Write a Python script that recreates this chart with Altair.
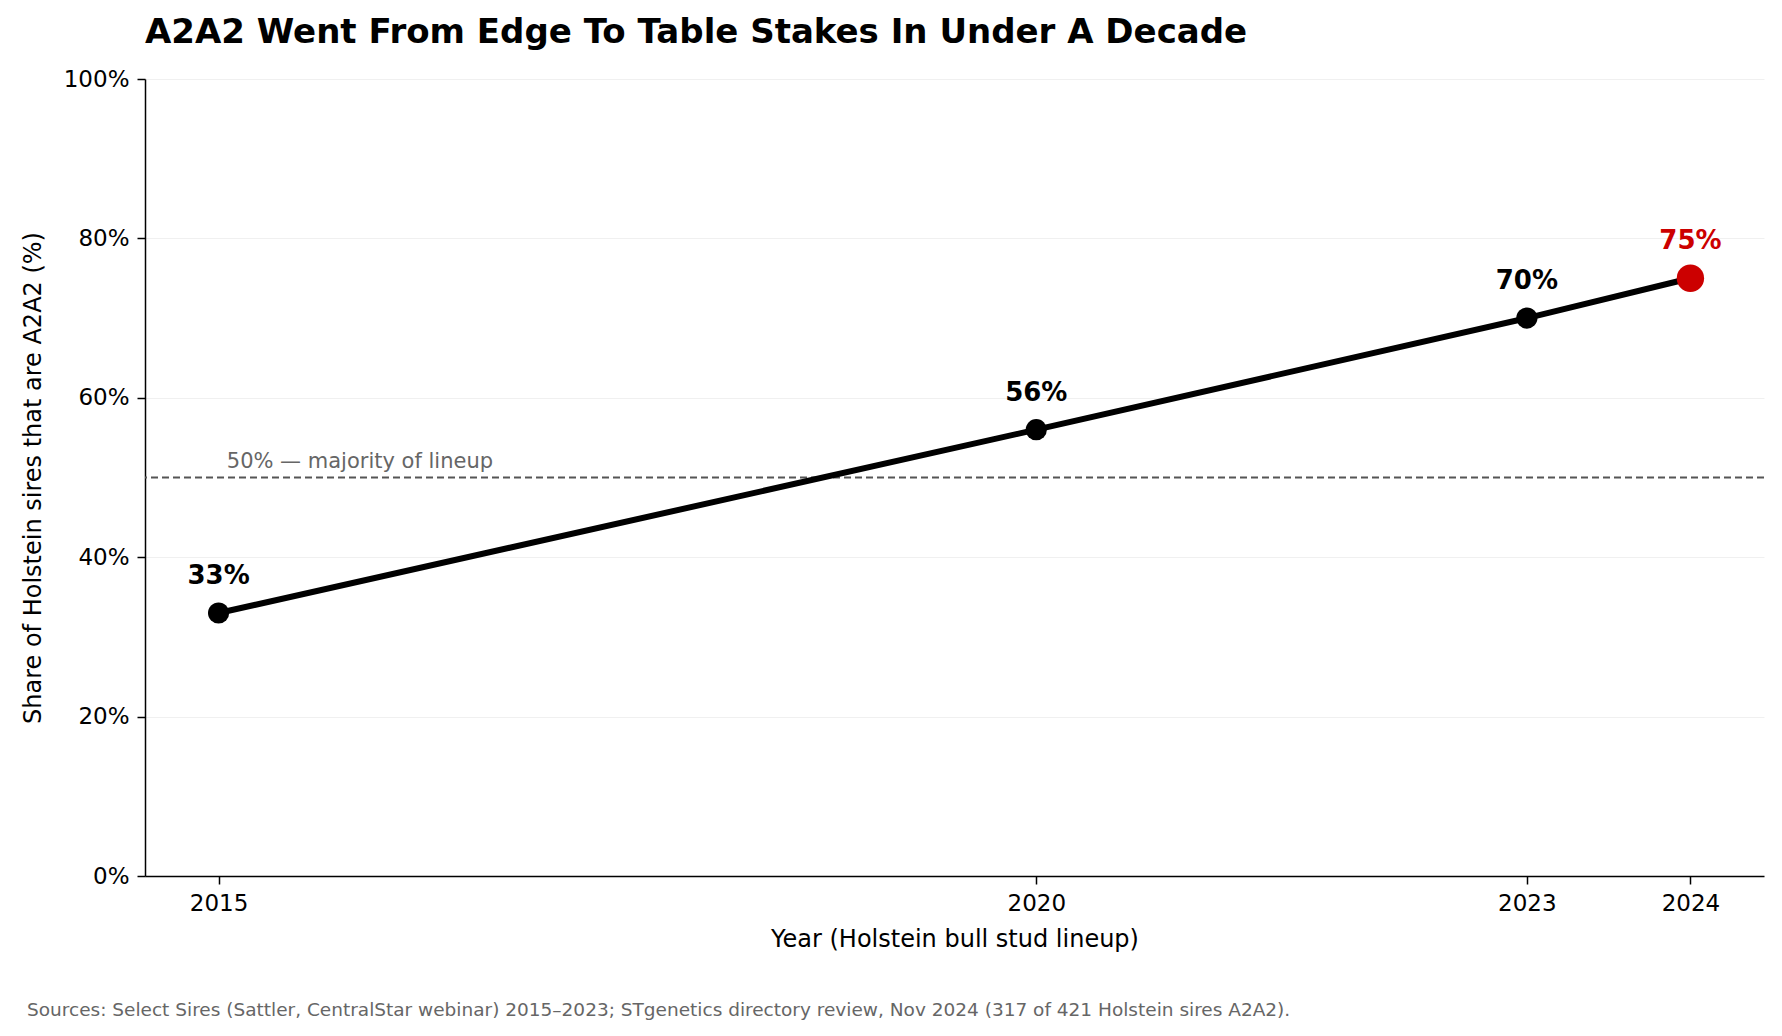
import altair as alt
import pandas as pd

years = [2015, 2020, 2023, 2024]
shares = [33, 56, 70, 75]
labels = ["33%", "56%", "70%", "75%"]
highlight = [False, False, False, True]

df = pd.DataFrame({"year": years, "share": shares, "label": labels, "hl": highlight})

xs = alt.Scale(domain=[2014.55, 2024.45], nice=False, zero=False)
ys = alt.Scale(domain=[0, 100], nice=False)

base = alt.Chart(df)

x_enc = alt.X("year:Q", scale=xs, title="Year (Holstein bull stud lineup)",
              axis=alt.Axis(values=years, format="d", grid=False, labelFontSize=23,
                            titleFontSize=24, titleFontWeight="normal", labelPadding=8,
                            titlePadding=12, domainColor="black", tickColor="black",
                            tickSize=8, domainWidth=1.5, tickWidth=1.5,
                            labelColor="black", titleColor="black",
                            labelFont="DejaVu Sans", titleFont="DejaVu Sans"))
y_enc = alt.Y("share:Q", scale=ys, title="Share of Holstein sires that are A2A2 (%)",
              axis=alt.Axis(values=[0, 20, 40, 60, 80, 100], labelExpr="datum.value + '%'",
                            grid=True, gridColor="#f0f0f0", labelFontSize=23, titleFontSize=24,
                            titleFontWeight="normal", titlePadding=18, labelPadding=8,
                            domainColor="black", domainWidth=1.5, tickWidth=1.5,
                            tickColor="black", tickSize=8, labelColor="black",
                            titleColor="black", labelFont="DejaVu Sans",
                            titleFont="DejaVu Sans"))

ref = alt.Chart(pd.DataFrame({"y": [50]})).mark_rule(
    color="#555555", strokeDash=[7, 4], strokeWidth=1.8
).encode(y=alt.Y("y:Q", scale=ys))

ref_text = alt.Chart(pd.DataFrame({"x": [2015.05], "y": [50], "t": ["50% — majority of lineup"]})).mark_text(
    align="left", baseline="bottom", dy=-6, fontSize=21, color="#666666", font="DejaVu Sans"
).encode(x=alt.X("x:Q", scale=xs), y=alt.Y("y:Q", scale=ys), text="t:N")

line = base.mark_line(color="black", strokeWidth=6).encode(x=x_enc, y=y_enc)

pts = base.mark_point(filled=True, opacity=1).encode(
    x=alt.X("year:Q", scale=xs),
    y=alt.Y("share:Q", scale=ys),
    color=alt.condition("datum.hl", alt.value("#cc0000"), alt.value("black")),
    size=alt.condition("datum.hl", alt.value(750), alt.value(450)),
)

txt = base.mark_text(baseline="bottom", dy=-24, fontSize=26, fontWeight="bold",
                     font="DejaVu Sans").encode(
    x=alt.X("year:Q", scale=xs),
    y=alt.Y("share:Q", scale=ys),
    text="label:N",
    color=alt.condition("datum.hl", alt.value("#cc0000"), alt.value("black")),
)

foot = alt.Chart(pd.DataFrame({"t": ["Sources: Select Sires (Sattler, CentralStar webinar) 2015–2023; STgenetics directory review, Nov 2024 (317 of 421 Holstein sires A2A2)."]})).mark_text(
    align="left", baseline="middle", fontSize=18.5, color="#666666", font="DejaVu Sans"
).encode(x=alt.value(-118), y=alt.value(931), text="t:N")

chart = (ref + ref_text + line + pts + txt + foot).properties(
    width=1619, height=797,
    autosize=alt.AutoSizeParams(type="none"),
    padding={"left": 137, "top": 71, "right": 10, "bottom": 150},
    title=alt.TitleParams("A2A2 Went From Edge To Table Stakes In Under A Decade",
                          anchor="start", frame="group", fontSize=34, fontWeight="bold",
                          font="DejaVu Sans", color="black", offset=18),
).configure_view(stroke=None)

chart.save("out.html", embed_options={"renderer": "svg", "actions": False})
